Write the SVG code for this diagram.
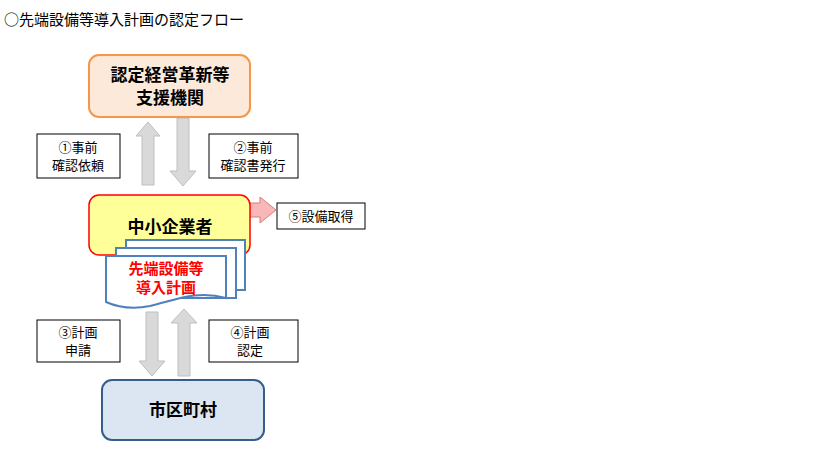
<svg xmlns="http://www.w3.org/2000/svg" width="819" height="469" viewBox="0 0 819 469">
<style>
text{font-family:"Noto Sans CJK JP","Noto Sans CJK SC",sans-serif;}
.lbl{fill:#fff;stroke:#000;stroke-width:1}
.lt{font-size:13px;text-anchor:middle}
.big{font-size:17px;font-weight:bold;text-anchor:middle}
.ga{fill:#d9d9d9;stroke:#bfbfbf;stroke-width:1}
.pg{fill:#fff;stroke:#4f81bd;stroke-width:2}
</style>
<rect width="819" height="469" fill="#fff"/>
<text x="4" y="25" font-size="15">○先端設備等導入計画の認定フロー</text>
<g id="connectors">
<path class="ga" d="M148,122 L160,136 L154,136 L154,185 L142,185 L142,136 L136,136 Z"/>
<path class="ga" d="M177,118 L189,118 L189,171 L196,171 L183,186 L170,171 L177,171 Z"/>
<path fill="#f9b8b8" stroke="#e07a7a" d="M236,203 L260,203 L260,197 L276,210 L260,223 L260,217 L236,217 Z"/>
<path class="ga" d="M146,312 L158,312 L158,361 L165,361 L152,376 L139,361 L146,361 Z"/>
<path class="ga" d="M184,309 L197,323 L190,323 L190,376 L178,376 L178,323 L171,323 Z"/>
</g>
<g id="n1"><rect x="89" y="55" width="161" height="62" rx="10" fill="#fde9d9" stroke="#f79646" stroke-width="2"/>
<text class="big" x="170" y="81">認定経営革新等</text><text class="big" x="170" y="104">支援機関</text></g>
<g id="l1"><rect class="lbl" x="37" y="134" width="83" height="44"/><text class="lt" x="78" y="152">①事前</text><text class="lt" x="78" y="170">確認依頼</text></g>
<g id="l2"><rect class="lbl" x="209" y="134" width="89" height="44"/><text class="lt" x="253" y="152">②事前</text><text class="lt" x="253" y="170">確認書発行</text></g>
<g id="n2"><rect x="89" y="195" width="161" height="60" rx="10" fill="#ffff99" stroke="#ff0000" stroke-width="1.5"/>
<text class="big" x="170" y="233">中小企業者</text></g>
<g id="l5"><rect class="lbl" x="277" y="203" width="88" height="26"/><text class="lt" x="321" y="221">⑤設備取得</text></g>
<g id="doc">
<path class="pg" d="M126,240 H245 V290 H126 Z"/>
<path class="pg" d="M116,248 H236 V298 H116 Z"/>
<path class="pg" d="M106,256 H226 V298 C196,290 176,300 150,306 C130,310 115,306 106,302 Z"/>
<text x="166" y="274" font-size="15" font-weight="bold" fill="#ff0000" text-anchor="middle">先端設備等</text>
<text x="166" y="293" font-size="15" font-weight="bold" fill="#ff0000" text-anchor="middle">導入計画</text>
</g>
<g id="l3"><rect class="lbl" x="37" y="320" width="83" height="42"/><text class="lt" x="78" y="337">③計画</text><text class="lt" x="78" y="355">申請</text></g>
<g id="l4"><rect class="lbl" x="209" y="320" width="89" height="42"/><text class="lt" x="250" y="337">④計画</text><text class="lt" x="250" y="355">認定</text></g>
<g id="n3"><rect x="102" y="380" width="162" height="60" rx="10" fill="#dce6f2" stroke="#385d8a" stroke-width="2"/>
<text class="big" x="183" y="416">市区町村</text></g>
</svg>
